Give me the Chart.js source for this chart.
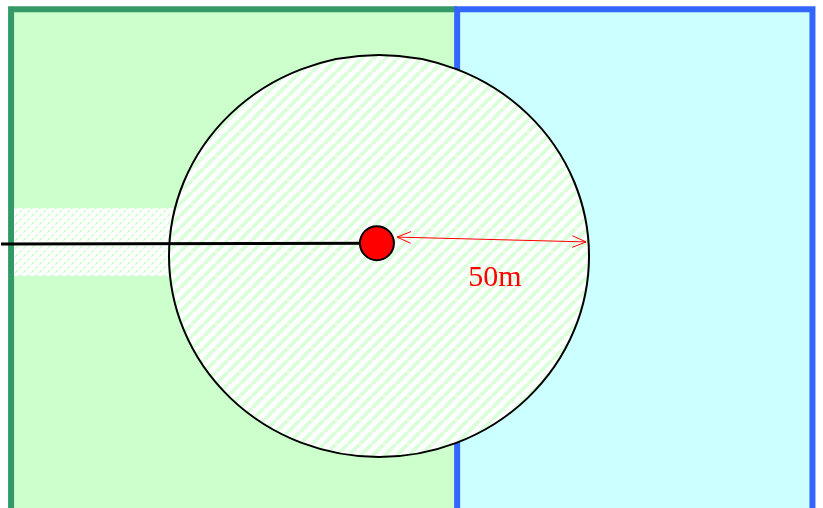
<!DOCTYPE html>
<html lang="en">
<head>
<meta charset="UTF-8">
<title>50m zone</title>
<script src="https://cdn.jsdelivr.net/npm/chart.js"></script>
<style>
  html, body { margin: 0; padding: 0; background: #fff; }
  #wrap { width: 823px; height: 508px; }
</style>
</head>
<body>
<div id="wrap"><canvas id="zoneChart"></canvas></div>
<script>
// plan coordinates, in metres, circle centre at (0, 0)
const xRange = [-90.24, 105.71];
const yRange = [-62.69, 63.68];

const greenZone = [{x: -87.6, y: -70}, {x: -87.6, y: 61.4}, {x: 18.6, y: 61.4}, {x: 18.6, y: -70}];
const blueZone = [{x: 18.6, y: -70}, {x: 18.6, y: 61.4}, {x: 103.2, y: 61.4}, {x: 103.2, y: -70}];
const greenEdge = [{x: -87.6, y: -70}, {x: -87.6, y: 61.4}, {x: 18.6, y: 61.4}];
const blueEdge = [{x: 18.6, y: -70}, {x: 18.6, y: 61.4}, {x: 103.2, y: 61.4}, {x: 103.2, y: -70}];
const corridor = [{x: -86.9, y: 11.9}, {x: 0, y: 11.9}, {x: 0, y: -5.0}, {x: -86.9, y: -5.0}];
const route = [{x: -90.0, y: 3.0}, {x: -0.5, y: 3.2}];
const target = [{x: -0.5, y: 3.2}];
const radiusLine = [{x: 4.3, y: 4.7}, {x: 49.3, y: 3.5}];
const circleCentre = {x: 0, y: 0};
const circleRadius = 50;
const radiusLabel = {x: 27.6, y: -7.4, text: '50m'};

function stripes(size, color, width, dashed) {
  const c = document.createElement('canvas');
  c.width = size; c.height = size;
  const g = c.getContext('2d');
  g.fillStyle = '#fff';
  g.fillRect(0, 0, size, size);
  g.strokeStyle = color;
  g.lineWidth = width;
  if (dashed) g.setLineDash([3, 2]);
  for (let k = -1; k <= 1; k++) {
    g.beginPath();
    g.moveTo(k * size, size);
    g.lineTo(k * size + size, 0);
    g.stroke();
  }
  return g.createPattern(c, 'repeat');
}
const circleHatch = stripes(12, 'rgba(215,255,215,0.9)', 4, false);
const corridorHatch = stripes(8, 'rgba(205,255,205,0.9)', 2, true);

// draw the 50 m circle right after the corridor so it sits on top of it
const circlePlugin = {
  id: 'circle',
  afterDatasetDraw(chart, args) {
    if (args.meta.label !== 'corridor') return;
    const {x, y} = chart.scales;
    const ctx = chart.ctx;
    const cx = x.getPixelForValue(circleCentre.x);
    const cy = y.getPixelForValue(circleCentre.y);
    const rx = x.getPixelForValue(circleCentre.x + circleRadius) - cx;
    const ry = cy - y.getPixelForValue(circleCentre.y + circleRadius);
    ctx.save();
    ctx.beginPath();
    ctx.ellipse(cx, cy, rx, ry, 0, 0, Math.PI * 2);
    ctx.fillStyle = circleHatch;
    ctx.fill();
    ctx.lineWidth = 2;
    ctx.strokeStyle = '#000';
    ctx.stroke();
    ctx.restore();
  }
};

// open arrow heads at both ends of the radius line, plus the label
const arrowPlugin = {
  id: 'arrows',
  afterDatasetsDraw(chart) {
    const {x, y} = chart.scales;
    const ctx = chart.ctx;
    const p = radiusLine.map(d => ({x: x.getPixelForValue(d.x), y: y.getPixelForValue(d.y)}));
    ctx.save();
    ctx.strokeStyle = '#ff0000';
    ctx.lineWidth = 1;
    [[p[0], p[1]], [p[1], p[0]]].forEach(([tip, from]) => {
      const a = Math.atan2(from.y - tip.y, from.x - tip.x);
      ctx.beginPath();
      ctx.moveTo(tip.x + 15 * Math.cos(a - 0.4), tip.y + 15 * Math.sin(a - 0.4));
      ctx.lineTo(tip.x, tip.y);
      ctx.lineTo(tip.x + 15 * Math.cos(a + 0.4), tip.y + 15 * Math.sin(a + 0.4));
      ctx.stroke();
    });
    ctx.fillStyle = '#ff0000';
    ctx.font = '30px "Liberation Serif"';
    ctx.textAlign = 'center';
    ctx.textBaseline = 'alphabetic';
    ctx.fillText(radiusLabel.text, x.getPixelForValue(radiusLabel.x), y.getPixelForValue(radiusLabel.y));
    ctx.restore();
  }
};

new Chart(document.getElementById('zoneChart'), {
  type: 'scatter',
  data: {
    datasets: [
      {label: 'greenZone', data: greenZone, showLine: true, fill: 'shape', backgroundColor: '#ccffcc', borderWidth: 0, pointRadius: 0, order: 10},
      {label: 'blueZone', data: blueZone, showLine: true, fill: 'shape', backgroundColor: '#ccffff', borderWidth: 0, pointRadius: 0, order: 9},
      {label: 'greenEdge', data: greenEdge, showLine: true, borderColor: '#339966', borderWidth: 6, borderJoinStyle: 'miter', pointRadius: 0, order: 8},
      {label: 'blueEdge', data: blueEdge, showLine: true, borderColor: '#3366ff', borderWidth: 6, borderJoinStyle: 'miter', pointRadius: 0, order: 7},
      {label: 'corridor', data: corridor, showLine: true, fill: 'shape', backgroundColor: corridorHatch, borderWidth: 0, pointRadius: 0, order: 6},
      {label: 'route', data: route, showLine: true, borderColor: '#000', borderWidth: 3, pointRadius: 0, order: 4},
      {label: 'target', data: target, backgroundColor: '#ff0000', borderColor: '#000', borderWidth: 2, pointRadius: 17, order: 3},
      {label: 'radius', data: radiusLine, showLine: true, borderColor: '#ff0000', borderWidth: 1, pointRadius: 0, order: 2}
    ]
  },
  options: {
    responsive: true,
    maintainAspectRatio: false,
    animation: false,
    layout: {padding: 0, autoPadding: false},
    plugins: {legend: {display: false}, tooltip: {enabled: false}},
    scales: {
      x: {type: 'linear', min: xRange[0], max: xRange[1], display: false},
      y: {type: 'linear', min: yRange[0], max: yRange[1], display: false}
    }
  },
  plugins: [circlePlugin, arrowPlugin]
});
</script>
</body>
</html>
